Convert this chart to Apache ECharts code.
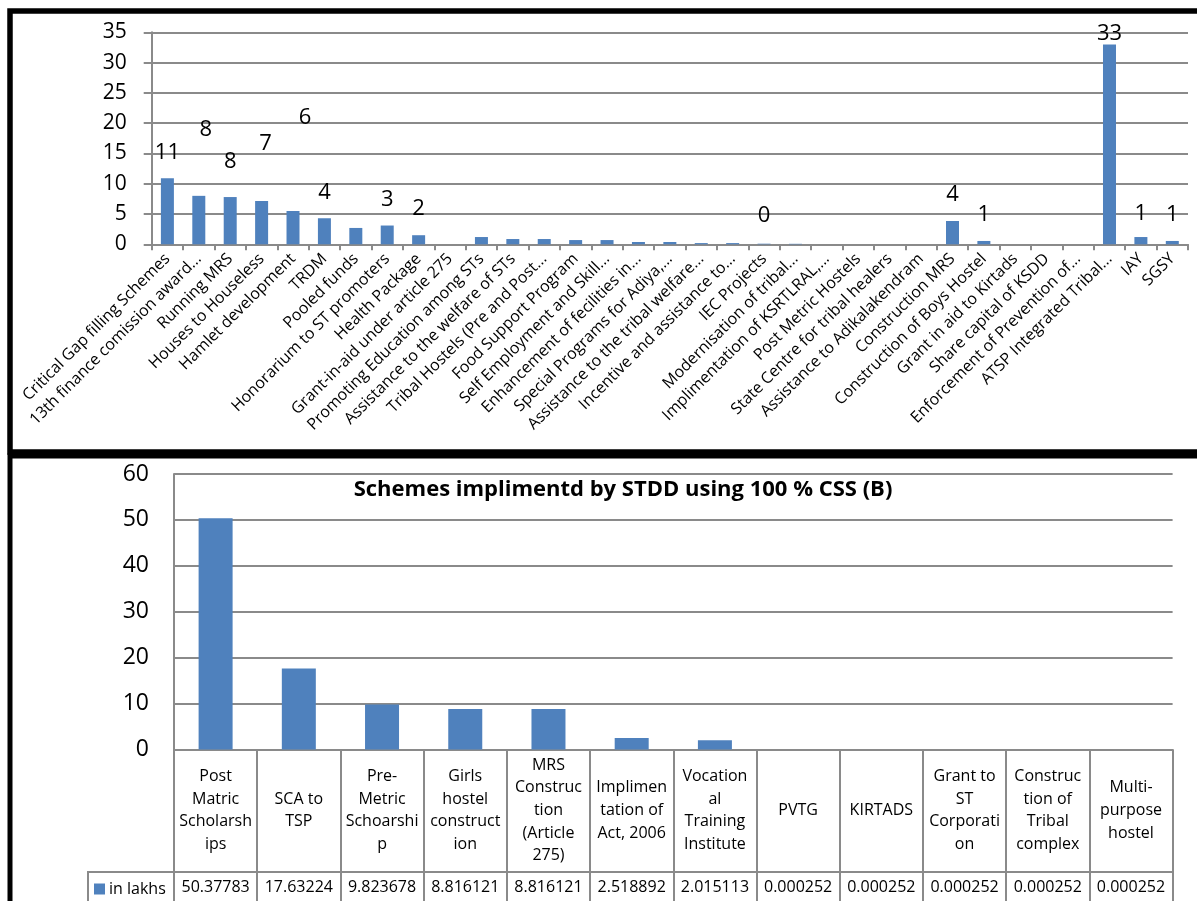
<!DOCTYPE html>
<html>
<head>
<meta charset="utf-8">
<title>Schemes implimentd by STDD</title>
<script src="https://cdn.jsdelivr.net/npm/echarts@6/dist/echarts.min.js"></script>
<style>
  html, body { margin: 0; padding: 0; background: #fff; }
  #chart { width: 1197px; height: 901px; }
</style>
</head>
<body>
<div id="chart"></div>
<script>
// ---- State plan schemes (upper panel) ----
const stateSchemes = [
  'Critical Gap filling Schemes',
  '13th finance comission award...',
  'Running MRS',
  'Houses to Houseless',
  'Hamlet development',
  'TRDM',
  'Pooled funds',
  'Honorarium to ST promoters',
  'Health Package',
  'Grant-in-aid under article 275',
  'Promoting Education among STs',
  'Assistance to the welfare of STs',
  'Tribal Hostels (Pre and Post...',
  'Food Support Program',
  'Self Employment and Skill...',
  'Enhancement of fecilities in...',
  'Special Programs for Adiya,...',
  'Assistance to the tribal welfare...',
  'Incentive and assistance to...',
  'IEC Projects',
  'Modernisation of tribal...',
  'Implimentation of KSRTLRAL,...',
  'Post Metric Hostels',
  'State Centre for tribal healers',
  'Assistance to Adikalakendram',
  'Construction MRS',
  'Construction of Boys Hostel',
  'Grant in aid to Kirtads',
  'Share capital of KSDD',
  'Enforcement of Prevention of...',
  'ATSP Integrated Tribal...',
  'IAY',
  'SGSY'
];
const stateShares = [
  10.9, 8.0, 7.8, 7.15, 5.5, 4.3, 2.7, 3.1, 1.5, 0,
  1.2, 0.87, 0.87, 0.7, 0.7, 0.38, 0.38, 0.2, 0.2, 0.1,
  0.08, 0, 0, 0, 0, 3.85, 0.55, 0, 0, 0,
  33.0, 1.2, 0.55
];
// bars that carry a rounded value label
const labelledBars = [0, 1, 2, 3, 4, 5, 7, 8, 19, 25, 26, 30, 31, 32];
// hand-placed label nudges [dx, dy]
const labelNudge = { 1: [7, -40], 2: [0, -9], 3: [4, -31], 4: [12, -67], 19: [0, -2], 30: [0, 15], 31: [0, 3] };
const stateTicks = { min: 0, max: 35, interval: 5 };

// ---- Schemes implimentd by STDD using 100 % CSS (lower panel) ----
const cssSchemes = [
  'Post\nMatric\nScholarsh\nips',
  'SCA to\nTSP',
  'Pre-\nMetric\nSchoarshi\np',
  'Girls\nhostel\nconstruct\nion',
  'MRS\nConstruc\ntion\n(Article\n275)',
  'Implimen\ntation of\nAct, 2006',
  'Vocation\nal\nTraining\nInstitute',
  'PVTG',
  'KIRTADS',
  'Grant to\nST\nCorporati\non',
  'Construc\ntion of\nTribal\ncomplex',
  'Multi-\npurpose\nhostel'
];
const cssLakhs = [
  50.37783, 17.63224, 9.823678, 8.816121, 8.816121, 2.518892,
  2.015113, 0.000252, 0.000252, 0.000252, 0.000252, 0.000252
];
const cssSeriesName = 'in lakhs';
const cssTicks = { min: 0, max: 60, interval: 10 };

const FONT = '"Open Sans", Lato, sans-serif';
const BAR = '#4F81BD';
const GRID = '#8a8a8a';

const chart = echarts.init(document.getElementById('chart'), null, { renderer: 'canvas' });

const stateData = stateShares.map((v, i) => ({
  value: v,
  label: {
    show: labelledBars.includes(i),
    offset: labelNudge[i] || [0, 0]
  }
}));

chart.setOption({
  animation: false,
  textStyle: { fontFamily: FONT, color: '#000' },
  title: {
    text: 'Schemes implimentd by STDD using 100 % CSS (B)',
    left: 618, top: 474, textAlign: 'center',
    textStyle: { fontFamily: FONT, fontSize: 22, fontWeight: 'bold', color: '#000' }
  },
  legend: {
    data: [cssSeriesName],
    left: 89, top: 876,
    icon: 'rect', itemWidth: 11, itemHeight: 11, itemGap: 4,
    textStyle: { fontFamily: FONT, fontSize: 16, color: '#000', padding: [0, 0, 0, -1] }
  },
  grid: [
    { left: 151.7, top: 32.3, width: 1036.3, height: 212 },
    { left: 174, top: 474, width: 998.6, height: 275.5 }
  ],
  xAxis: [
    {
      gridIndex: 0, type: 'category', data: stateSchemes,
      axisLine: { lineStyle: { color: GRID, width: 2 } },
      axisTick: { show: true, length: 6, lineStyle: { color: GRID, width: 2 } },
      axisLabel: { interval: 0, rotate: 45, margin: 12, fontSize: 16, color: '#000', fontFamily: FONT }
    },
    {
      gridIndex: 1, type: 'category', data: cssSchemes,
      axisLine: { lineStyle: { color: GRID, width: 2 } },
      axisTick: { show: true, length: 160, lineStyle: { color: GRID, width: 2 } },
      axisLabel: {
        interval: 0, margin: 61, verticalAlign: 'middle', align: 'center',
        fontSize: 16, lineHeight: 22.7, color: '#000', fontFamily: FONT
      }
    },
    {
      // value row of the data table
      gridIndex: 1, type: 'category', data: cssSchemes, position: 'bottom', offset: 122.5,
      axisLine: { lineStyle: { color: GRID, width: 2 } },
      axisTick: { show: false },
      axisLabel: {
        interval: 0, margin: 15, verticalAlign: 'middle', fontSize: 16, color: '#000', fontFamily: FONT,
        formatter: (v, i) => String(cssLakhs[i])
      }
    }
  ],
  yAxis: [
    {
      gridIndex: 0, type: 'value', min: stateTicks.min, max: stateTicks.max, interval: stateTicks.interval,
      axisLine: { show: true, lineStyle: { color: GRID, width: 2 } },
      axisTick: { show: true, length: 8, lineStyle: { color: GRID, width: 2 } },
      splitLine: { lineStyle: { color: GRID, width: 2 } },
      axisLabel: { margin: 25, fontSize: 21, color: '#000', fontFamily: FONT }
    },
    {
      gridIndex: 1, type: 'value', min: cssTicks.min, max: cssTicks.max, interval: cssTicks.interval,
      axisLine: { show: true, lineStyle: { color: GRID, width: 2 } },
      axisTick: { show: false },
      splitLine: { lineStyle: { color: GRID, width: 2 } },
      axisLabel: { margin: 25, fontSize: 23, color: '#000', fontFamily: FONT }
    }
  ],
  series: [
    {
      name: 'State schemes', type: 'bar', xAxisIndex: 0, yAxisIndex: 0,
      data: stateData, barWidth: 13,
      itemStyle: { color: BAR },
      label: {
        position: 'top', distance: 15, fontSize: 22, color: '#000', fontFamily: FONT,
        formatter: p => String(Math.round(p.value))
      }
    },
    {
      name: cssSeriesName, type: 'bar', xAxisIndex: 1, yAxisIndex: 1,
      data: cssLakhs, barWidth: 34,
      itemStyle: { color: BAR }
    }
  ],
  graphic: [
    // panel frames
    { type: 'rect', silent: true, z: 100,
      shape: { x: 10, y: 11, width: 1200, height: 441 },
      style: { fill: null, stroke: '#000', lineWidth: 5.5 } },
    { type: 'rect', silent: true, z: 100,
      shape: { x: 10, y: 456, width: 1200, height: 470 },
      style: { fill: null, stroke: '#000', lineWidth: 5 } },
    // legend cell of the data table
    { type: 'polyline', silent: true, z: 10,
      shape: { points: [[88, 920], [88, 872], [175, 872]] },
      style: { fill: null, stroke: GRID, lineWidth: 2 } }
  ]
});
</script>
</body>
</html>
